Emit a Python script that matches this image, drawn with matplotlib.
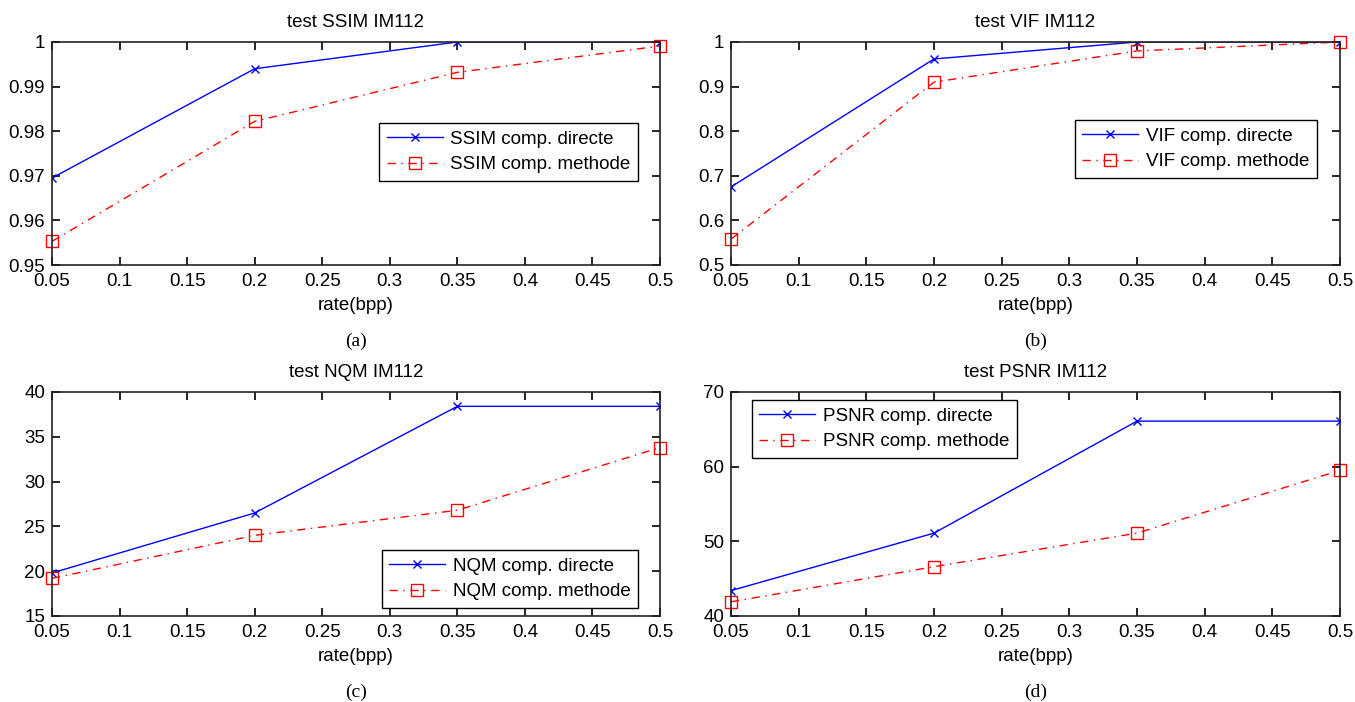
import matplotlib
matplotlib.use("Agg")
import matplotlib.pyplot as plt

# rate values (bpp)
rates = [0.05, 0.2, 0.35, 0.5]

ssim_directe = [0.9695, 0.9940, 1.0000, 1.0000]
ssim_methode = [0.9553, 0.9822, 0.9932, 0.9991]

vif_directe = [0.675, 0.962, 1.000, 1.000]
vif_methode = [0.558, 0.910, 0.980, 1.000]

nqm_directe = [19.8, 26.5, 38.4, 38.4]
nqm_methode = [19.2, 24.0, 26.8, 33.8]

psnr_directe = [43.4, 51.1, 66.1, 66.1]
psnr_methode = [41.9, 46.6, 51.1, 59.5]

metrics = ["SSIM", "VIF", "NQM", "PSNR"]
captions = ["(a)", "(b)", "(c)", "(d)"]
ylims = [(0.95, 1.0), (0.5, 1.0), (15, 40), (40, 70)]
yticks = [
    [0.95, 0.96, 0.97, 0.98, 0.99, 1.0],
    [0.5, 0.6, 0.7, 0.8, 0.9, 1.0],
    [15, 20, 25, 30, 35, 40],
    [40, 50, 60, 70],
]
ytick_labels = [
    ["0.95", "0.96", "0.97", "0.98", "0.99", "1"],
    ["0.5", "0.6", "0.7", "0.8", "0.9", "1"],
    ["15", "20", "25", "30", "35", "40"],
    ["40", "50", "60", "70"],
]
xticks = [0.05, 0.1, 0.15, 0.2, 0.25, 0.3, 0.35, 0.4, 0.45, 0.5]
xtick_labels = ["0.05", "0.1", "0.15", "0.2", "0.25", "0.3", "0.35", "0.4", "0.45", "0.5"]
directe = [ssim_directe, vif_directe, nqm_directe, psnr_directe]
methode = [ssim_methode, vif_methode, nqm_methode, psnr_methode]

# legend anchors (axes coords) and loc
legend_pos = [
    ("upper right", (0.964, 0.637)),
    ("upper right", (0.962, 0.65)),
    ("lower right", (0.964, 0.036)),
    ("upper left", (0.034, 0.964)),
]

W, H = 1355, 702
fig = plt.figure(figsize=(W / 100, H / 100), dpi=100)
fig.patch.set_facecolor("white")

# axes boxes in pixels: left, top, right, bottom
boxes = [
    (52, 42, 660, 265),
    (731, 42, 1340, 265),
    (52, 392, 660, 616),
    (731, 392, 1340, 616),
]

sans = ["Liberation Sans", "DejaVu Sans"]
serif = ["Liberation Serif", "DejaVu Serif"]
fs = 13.5

for i, (l, t, r, b) in enumerate(boxes):
    ax = fig.add_axes([l / W, 1 - b / H, (r - l) / W, (b - t) / H])
    m = metrics[i]
    ax.plot(rates, directe[i], color="blue", linestyle="-", linewidth=1.0,
            marker="x", markersize=5.5, markeredgewidth=1.0,
            label=f"{m} comp. directe")
    ax.plot(rates, methode[i], color="red", linestyle=(0, (6, 4, 1, 4)), linewidth=1.0,
            marker="s", markersize=9, markerfacecolor="none", markeredgewidth=1.0,
            label=f"{m} comp. methode", clip_on=False)
    ax.set_xlim(0.05, 0.5)
    ax.set_ylim(*ylims[i])
    ax.set_xticks(xticks)
    ax.set_xticklabels(xtick_labels)
    ax.set_yticks(yticks[i])
    ax.set_yticklabels(ytick_labels[i])
    ax.tick_params(direction="in", top=True, right=True, length=6, width=1.2,
                   labelsize=fs)
    ax.tick_params(axis="x", pad=6)
    ax.tick_params(axis="y", pad=5)
    for lab in ax.get_xticklabels() + ax.get_yticklabels():
        lab.set_family(sans)
    for sp in ax.spines.values():
        sp.set_linewidth(1.2)
        sp.set_color("#222222")
    ax.set_title(f"test {m} IM112", family=sans, fontsize=fs, pad=11)
    ax.set_xlabel("rate(bpp)", family=sans, fontsize=fs, labelpad=5)
    loc, anchor = legend_pos[i]
    leg = ax.legend(loc=loc, bbox_to_anchor=anchor, fancybox=False,
                    framealpha=1, edgecolor="black", handlelength=3.0,
                    borderpad=0.4, labelspacing=0.45, handletextpad=0.4,
                    borderaxespad=0, prop={"family": sans, "size": fs})
    leg.get_frame().set_linewidth(1.0)
    cx = (l + r) / 2 / W
    fig.text(cx, 1 - (b + 76) / H, captions[i], ha="center", va="center",
             family=serif, fontsize=14)

fig.savefig("out.png", dpi=100)
